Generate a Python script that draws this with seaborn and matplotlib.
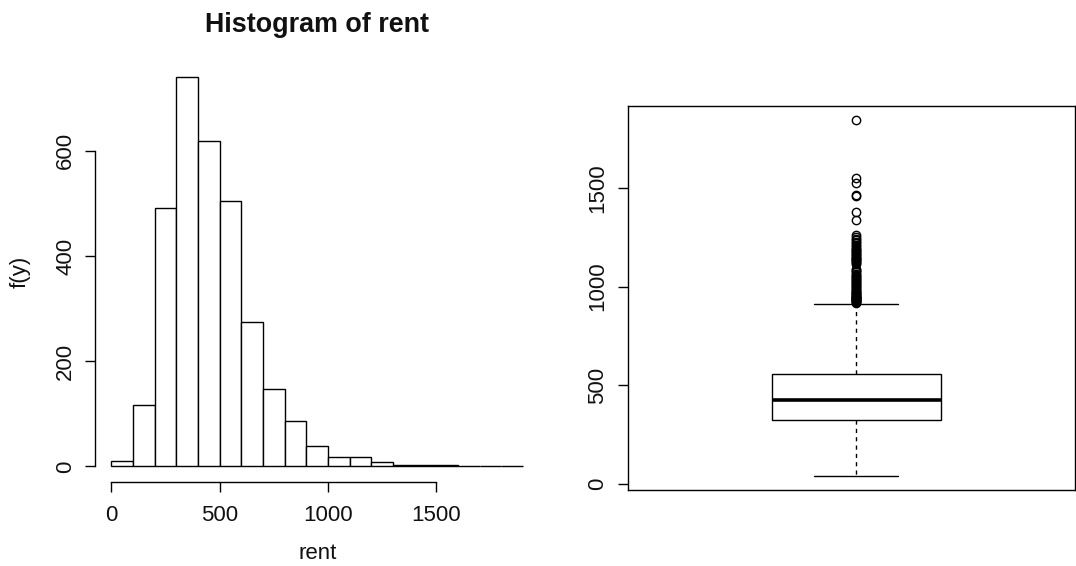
import numpy as np
import pandas as pd
import matplotlib
matplotlib.use("Agg")
import matplotlib.pyplot as plt
import seaborn as sns

# Histogram of monthly rent: bin edges (width 100) and counts per bin
bin_edges = list(range(0, 2000, 100))
bin_counts = [11, 117, 492, 741, 619, 504, 275, 147, 86, 39,
              17, 18, 8, 3, 2, 2, 0, 0, 1]

# Box plot summary of rent
rent_min_whisker = 40.5
rent_q1 = 322.0
rent_median = 427.0
rent_q3 = 559.4
rent_max_whisker = 914.0
rent_outliers = [
    918, 920, 922, 925, 927, 930, 932, 935, 938, 940, 943, 945, 948, 950,
    953, 955, 958, 962, 965, 968, 972, 975, 980, 985, 990, 994, 998,
    1002, 1008, 1012, 1018, 1022, 1028, 1033, 1038, 1044, 1050, 1055,
    1061, 1066, 1072, 1078, 1085, 1092,
    1115, 1120, 1124, 1128, 1133, 1138, 1142, 1147, 1152, 1157, 1162,
    1167, 1172, 1177, 1182, 1187, 1192, 1197,
    1205, 1212, 1220, 1228, 1235, 1243, 1252, 1262,
    1340, 1377, 1460, 1466, 1525, 1553, 1846,
]

hist_xticks = [0, 500, 1000, 1500]
hist_yticks = [0, 200, 400, 600]
box_yticks = [0, 500, 1000, 1500]

sns.set_theme(style="white")
plt.rcParams["font.family"] = ["Liberation Sans", "DejaVu Sans"]
plt.rcParams["font.size"] = 16
plt.rcParams["axes.linewidth"] = 1.0

fig = plt.figure(figsize=(10.76, 5.66), dpi=100)
W, H = 1076, 566


def add_axes_px(left, top, right, bottom):
    return fig.add_axes([left / W, 1 - bottom / H, (right - left) / W, (bottom - top) / H])


# ---- left panel: histogram ----
ax1 = add_axes_px(95, 61, 539.5, 482)
centers = [e + 50 for e in bin_edges[:-1]]
hist_df = pd.DataFrame({"rent": centers, "count": bin_counts})
sns.histplot(data=hist_df, x="rent", weights="count", bins=bin_edges,
             color="white", edgecolor="black", linewidth=1.0, alpha=1.0,
             ax=ax1)
ax1.set_xlim(-76, 1976)
ax1.set_ylim(-0.04 * max(bin_counts), 1.04 * max(bin_counts))
for s in ["top", "right"]:
    ax1.spines[s].set_visible(False)
for s in ["left", "bottom"]:
    ax1.spines[s].set_color("black")
ax1.spines["bottom"].set_bounds(hist_xticks[0], hist_xticks[-1])
ax1.spines["left"].set_bounds(hist_yticks[0], hist_yticks[-1])
ax1.set_xticks(hist_xticks)
ax1.set_yticks(hist_yticks)
ax1.tick_params(axis="both", direction="out", length=7.5, width=1.0,
                color="black", labelsize=16, labelcolor="#111111",
                left=True, bottom=True)
ax1.tick_params(axis="x", pad=9)
ax1.tick_params(axis="y", pad=6)
for lab in ax1.get_yticklabels():
    lab.set_rotation(90)
    lab.set_va("center")
ax1.set_xlabel("rent", fontsize=16, labelpad=12, color="#111111")
ax1.set_ylabel("f(y)", fontsize=16, labelpad=18, color="#111111")
ax1.set_title("Histogram of rent", fontsize=19.4, fontweight="bold",
              pad=21, color="#111111")

# ---- right panel: box plot ----
ax2 = add_axes_px(628.3, 105.7, 1075, 490)
stats = [{
    "whislo": rent_min_whisker, "q1": rent_q1, "med": rent_median,
    "q3": rent_q3, "whishi": rent_max_whisker, "fliers": rent_outliers,
}]
ax2.bxp(stats, positions=[1], widths=0.37, capwidths=0.185,
        showfliers=True, patch_artist=True,
        boxprops=dict(facecolor="white", edgecolor="black", linewidth=1.0),
        medianprops=dict(color="black", linewidth=2.6, solid_capstyle="butt"),
        whiskerprops=dict(color="black", linewidth=1.0, linestyle=(0, (3, 3))),
        capprops=dict(color="black", linewidth=1.0),
        flierprops=dict(marker="o", markersize=6, markerfacecolor="none",
                        markeredgecolor="black", markeredgewidth=1.0))
ax2.set_xlim(0.5, 1.48)
span = 1846 - 40.5
ax2.set_ylim(40.5 - 0.04 * span, 1846 + 0.04 * span)
for s in ax2.spines.values():
    s.set_visible(True)
    s.set_color("black")
    s.set_linewidth(1.0)
ax2.set_xticks([])
ax2.set_yticks(box_yticks)
ax2.tick_params(axis="y", direction="out", length=7.5, width=1.0,
                color="black", labelsize=16, labelcolor="#111111",
                left=True, pad=7)
for lab in ax2.get_yticklabels():
    lab.set_rotation(90)
    lab.set_va("center")

fig.savefig("out.png", dpi=100)
